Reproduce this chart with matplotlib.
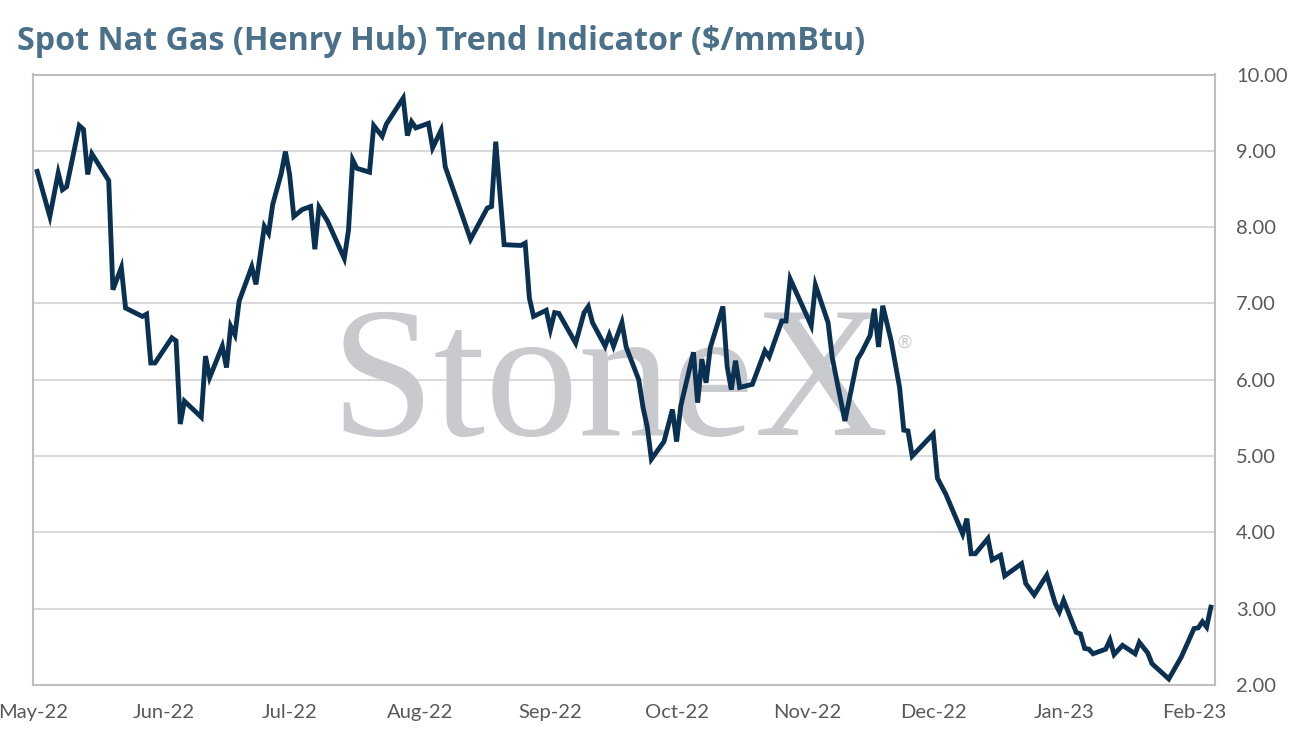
"""Spot Nat Gas (Henry Hub) trend indicator line chart."""

import matplotlib
matplotlib.use("Agg")
import matplotlib.dates as mdates
import matplotlib.pyplot as plt
import pandas as pd

TITLE = "Spot Nat Gas (Henry Hub) Trend Indicator ($/mmBtu)"
START = "2022-05-01"
END = "2023-02-06"

# days since START
DAYS = [
    1, 4, 6, 7, 8, 11, 12, 13, 14, 18, 19, 21, 22, 26, 27, 28, 29, 33, 34, 35,
    36, 40, 41, 42, 45, 46, 47, 48, 49, 52, 53, 55, 56, 57, 59, 60, 61, 62, 64, 66,
    67, 68, 70, 74, 75, 76, 77, 80, 81, 83, 84, 88, 89, 90, 91, 94, 95, 97, 98, 102,
    104, 108, 109, 110, 112, 116, 117, 118, 119, 122, 123, 124, 125, 129, 131, 132, 133, 136, 137, 138,
    140, 141, 144, 145, 146, 147, 150, 152, 153, 154, 157, 158, 159, 160, 161, 164, 165, 166, 167, 168,
    171, 174, 175, 178, 179, 180, 185, 186, 189, 190, 193, 196, 197, 199, 200, 201, 202, 204, 206, 207,
    208, 209, 214, 215, 217, 221, 222, 223, 224, 227, 228, 230, 231, 235, 236, 238, 241, 243, 244, 245,
    248, 249, 250, 251, 252, 255, 256, 257, 259, 262, 263, 265, 266, 270, 273, 276, 277, 278, 279, 280,
]
PRICES = [
    8.73, 8.14, 8.71, 8.49, 8.53, 9.33, 9.28, 8.69, 8.96, 8.61, 7.18, 7.47, 6.94, 6.83, 6.86, 6.22, 6.22, 6.55, 6.51, 5.42,
    5.72, 5.51, 6.31, 6.03, 6.44, 6.16, 6.70, 6.59, 7.03, 7.48, 7.25, 8.01, 7.92, 8.30, 8.70, 8.99, 8.69, 8.14, 8.23, 8.27,
    7.71, 8.26, 8.08, 7.59, 7.96, 8.88, 8.77, 8.72, 9.33, 9.19, 9.35, 9.69, 9.20, 9.38, 9.30, 9.36, 9.04, 9.27, 8.79, 8.16,
    7.84, 8.25, 8.27, 9.12, 7.77, 7.76, 7.79, 7.07, 6.83, 6.91, 6.66, 6.88, 6.87, 6.48, 6.88, 6.96, 6.75, 6.44, 6.59, 6.44,
    6.75, 6.43, 6.00, 5.64, 5.39, 4.96, 5.19, 5.61, 5.19, 5.66, 6.36, 5.70, 6.27, 5.96, 6.42, 6.96, 6.18, 5.87, 6.25, 5.90,
    5.94, 6.38, 6.30, 6.77, 6.77, 7.32, 6.71, 7.24, 6.75, 6.29, 5.46, 6.27, 6.36, 6.58, 6.93, 6.43, 6.97, 6.51, 5.90, 5.34,
    5.33, 5.00, 5.29, 4.71, 4.50, 3.98, 4.18, 3.72, 3.72, 3.92, 3.64, 3.70, 3.43, 3.59, 3.33, 3.18, 3.44, 3.07, 2.96, 3.11,
    2.69, 2.67, 2.48, 2.47, 2.41, 2.47, 2.59, 2.40, 2.52, 2.41, 2.56, 2.42, 2.28, 2.08, 2.37, 2.74, 2.75, 2.83, 2.76, 3.02,
]
Y_TICKS = [2, 3, 4, 5, 6, 7, 8, 9, 10]

LINE_COLOR = "#0b3152"
TITLE_COLOR = "#4b7089"
TEXT_COLOR = "#595959"
GRID_COLOR = "#d9d9d9"
BOX_COLOR = "#bfbfbf"
MARK_COLOR = "#c9cacd"

plt.rcParams["font.family"] = ["Lato", "DejaVu Sans"]

dates = pd.Timestamp(START) + pd.to_timedelta(DAYS, unit="D")

fig = plt.figure(figsize=(12.94, 7.45), dpi=100)
ax = fig.add_axes([0.0255, 0.0805, 0.9135, 0.8195])

# watermark
ax.text(0.488, 0.41, "StoneX", transform=ax.transAxes, ha="center", va="baseline",
        fontsize=134, family="Liberation Serif", color=MARK_COLOR, zorder=1)
ax.text(0.73, 0.56, "\u00ae", transform=ax.transAxes, ha="left", va="center",
        fontsize=13, family="DejaVu Sans", color=MARK_COLOR, zorder=1)

ax.plot(dates, PRICES, color=LINE_COLOR, linewidth=3.5, solid_joinstyle="miter",
        zorder=3)

ax.set_xlim(pd.Timestamp(START), pd.Timestamp(END))
ax.set_ylim(2, 10)
ax.set_yticks(Y_TICKS)
ax.yaxis.set_major_formatter(plt.FuncFormatter(lambda v, _: f"{v:.2f}"))
ax.yaxis.tick_right()
ax.xaxis.set_major_locator(mdates.MonthLocator())
ax.xaxis.set_major_formatter(mdates.DateFormatter("%b-%y"))

ax.grid(axis="y", color=GRID_COLOR, linewidth=1.5, zorder=0)
ax.set_axisbelow(True)
for spine in ax.spines.values():
    spine.set_color(BOX_COLOR)
    spine.set_linewidth(1.5)

ax.tick_params(axis="both", length=0, labelsize=14.5, labelcolor=TEXT_COLOR)
ax.tick_params(axis="x", pad=14)
ax.tick_params(axis="y", pad=15)

fig.text(17 / 1294, 1 - 41 / 745, TITLE, ha="left", va="center", fontsize=23.2,
         fontweight="bold", family=["Open Sans", "DejaVu Sans"], color=TITLE_COLOR)

fig.savefig("out.png", dpi=100)
